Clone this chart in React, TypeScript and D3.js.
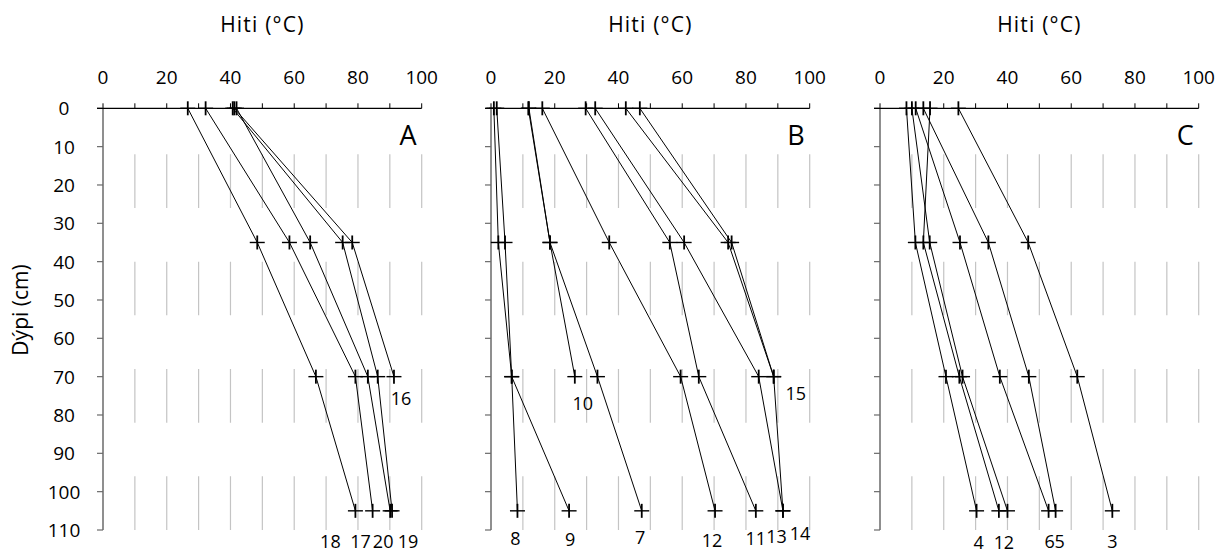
import React from "react";
import * as d3 from "d3";

// Measurement depths (cm) shared by every profile
const depthLevels = [0, 35, 70, 105];

// Depth axis ticks and temperature axis ticks
const depthTicks = [0, 10, 20, 30, 40, 50, 60, 70, 80, 90, 100, 110];
const tempMinorTicks = [0, 10, 20, 30, 40, 50, 60, 70, 80, 90, 100];
const tempLabelTicks = [0, 20, 40, 60, 80, 100];
const gridTemps = [10, 20, 30, 40, 50, 60, 70, 80, 90, 100];

// Panel names
const panelNames = ["A", "B", "C"];

// Profile labels and temperatures (°C) per panel, in depth order
const labelsA = ["18", "17", "20", "19", "16"];
const tempsA = [
  [26.6, 48.4, 66.8, 79.2],
  [32.2, 58.5, 79.2, 84.6],
  [41.9, 65.0, 83.1, 90.1],
  [40.7, 75.2, 86.2, 90.7],
  [41.2, 78.2, 91.3],
];

const labelsB = ["8", "9", "10", "7", "12", "11", "13", "15", "14"];
const tempsB = [
  [0.9, 2.3, 6.5, 8.3],
  [1.8, 4.4, 6.5, 24.5],
  [11.7, 18.5, 26.3],
  [11.9, 18.5, 33.4, 47.3],
  [16.1, 37.1, 59.5, 70.3],
  [29.7, 56.1, 65.2, 83.1],
  [32.7, 60.6, 84.0, 91.6],
  [42.3, 74.4, 88.7],
  [46.7, 75.5, 88.7, 91.6],
];

const labelsC = ["4", "1", "2", "6", "5", "3"];
const tempsC = [
  [8.3, 11.1, 20.7, 30.3],
  [15.7, 13.6, 24.9, 37.3],
  [10.0, 15.6, 25.9, 40.0],
  [11.2, 25.1, 37.6, 52.9],
  [13.6, 34.0, 46.7, 55.1],
  [24.6, 46.5, 61.9, 72.9],
];

// Label placement relative to each profile's last point (px)
const labelOffsetsA = [[-25, 30], [-12, 30], [-7, 30], [16, 30], [7, 21]];
const labelOffsetsB = [[-2, 27], [1, 28], [8, 26], [-1.5, 26], [-3, 29], [0, 27], [-6.5, 25], [22, 16], [17, 22]];
const labelOffsetsC = [[2, 31], [0, 31], [1.5, 31], [1, 30], [4, 30], [0, 30]];

const panelLabels = [labelsA, labelsB, labelsC];
const panelTemps = [tempsA, tempsB, tempsC];
const panelOffsets = [labelOffsetsA, labelOffsetsB, labelOffsetsC];

const W = 1224;
const H = 553;
const panelLeft = [103, 491, 880];
const panelWidth = 318.7;
const plotTop = 108.3;
const plotBottom = 530;
const FONT = "'Open Sans', 'Noto Sans', sans-serif";

const y = d3.scaleLinear().domain([0, 110]).range([plotTop, plotBottom]);

function Cross({ cx, cy }: { cx: number; cy: number }) {
  return (
    <g>
      <line x1={cx - 7.5} x2={cx + 7.5} y1={cy} y2={cy} stroke="#000" strokeWidth={1.4} />
      <line x1={cx} x2={cx} y1={cy - 7} y2={cy + 7} stroke="#000" strokeWidth={1.8} />
    </g>
  );
}

function Panel({ index }: { index: number }) {
  const x0 = panelLeft[index];
  const x = d3.scaleLinear().domain([0, 100]).range([x0, x0 + panelWidth]);
  const labels = panelLabels[index];
  const temps = panelTemps[index];
  const offsets = panelOffsets[index];
  const line = d3
    .line<number>()
    .x((t) => x(t))
    .y((_, i) => y(depthLevels[i]));
  const dashLen = y(14) - y(0);

  return (
    <g>
      {/* dashed vertical grid */}
      {gridTemps.map((t) => (
        <line
          key={"g" + t}
          x1={x(t)}
          x2={x(t)}
          y1={y(110)}
          y2={y(0)}
          stroke="#c4c4c4"
          strokeWidth={1.2}
          strokeDasharray={`${dashLen} ${dashLen}`}
        />
      ))}

      {/* title */}
      <text
        x={(x(0) + x(100)) / 2}
        y={24}
        textAnchor="middle"
        dominantBaseline="central"
        fontFamily={FONT}
        fontSize={21}
        letterSpacing={1.2}
        fill="#000"
      >
        Hiti (°C)
      </text>

      {/* temperature axis on top */}
      {tempLabelTicks.map((t) => (
        <text
          key={"tl" + t}
          x={x(t)}
          y={77}
          textAnchor="middle"
          dominantBaseline="central"
          fontFamily={FONT}
          fontSize={19}
          fill="#000"
        >
          {t}
        </text>
      ))}
      {tempMinorTicks.map((t) => (
        <line key={"tt" + t} x1={x(t)} x2={x(t)} y1={plotTop - 5} y2={plotTop} stroke="#000" strokeWidth={1} />
      ))}

      {/* depth axis */}
      <line x1={x0} x2={x0} y1={plotTop} y2={plotBottom} stroke="#6a6a6a" strokeWidth={1.5} />
      {depthTicks.map((d) => (
        <line key={"dt" + d} x1={x0 - 6} x2={x0} y1={y(d)} y2={y(d)} stroke="#6a6a6a" strokeWidth={1.2} />
      ))}
      {index === 0 &&
        depthTicks.map((d) => (
          <text
            key={"dl" + d}
            x={64}
            y={y(d)}
            textAnchor="middle"
            dominantBaseline="central"
            fontFamily={FONT}
            fontSize={19}
            fill="#000"
          >
            {d}
          </text>
        ))}
      <line x1={x0 - 6} x2={x(100)} y1={plotTop} y2={plotTop} stroke="#000" strokeWidth={1.2} />

      {/* temperature profiles */}
      {temps.map((series, si) => (
        <g key={"s" + si}>
          <path d={line(series) || ""} fill="none" stroke="#000" strokeWidth={1} />
          {series.map((t, i) => (
            <Cross key={i} cx={x(t)} cy={y(depthLevels[i])} />
          ))}
          <text
            x={x(series[series.length - 1]) + offsets[si][0]}
            y={y(depthLevels[series.length - 1]) + offsets[si][1]}
            textAnchor="middle"
            dominantBaseline="central"
            fontFamily={FONT}
            fontSize={18}
            fill="#000"
          >
            {labels[si]}
          </text>
        </g>
      ))}

      {/* panel letter */}
      <text
        x={x(100) - 5}
        y={134}
        textAnchor="end"
        dominantBaseline="central"
        fontFamily={FONT}
        fontSize={27}
        fill="#000"
      >
        {panelNames[index]}
      </text>
    </g>
  );
}

export default function App() {
  return (
    <svg
      width={W}
      height={H}
      viewBox={`0 0 ${W} ${H}`}
      style={{ position: "absolute", left: 0, top: 0, background: "#fff" }}
    >
      <rect width={W} height={H} fill="#fff" />
      {panelNames.map((_, i) => (
        <Panel key={i} index={i} />
      ))}
      <text
        transform={`translate(20, 310) rotate(-90)`}
        textAnchor="middle"
        dominantBaseline="central"
        fontFamily={FONT}
        fontSize={21}
        fill="#000"
      >
        Dýpi (cm)
      </text>
    </svg>
  );
}
